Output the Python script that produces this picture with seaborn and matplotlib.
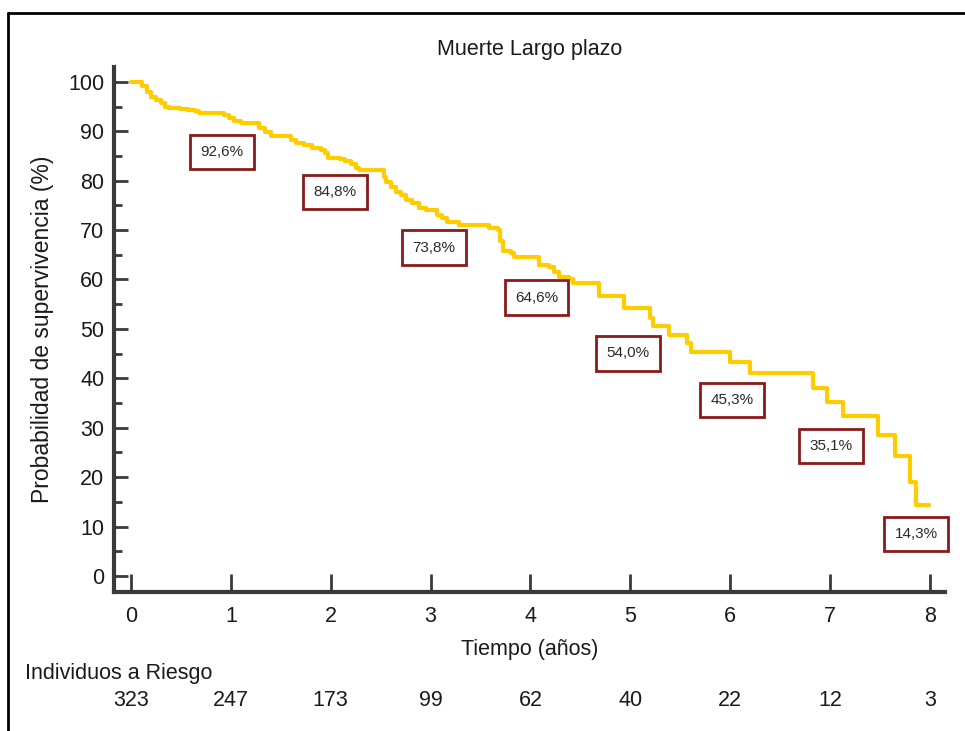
import matplotlib
matplotlib.use("Agg")
import matplotlib.pyplot as plt
from matplotlib.lines import Line2D
import seaborn as sns
import pandas as pd

# ---- data ----
times = [0, 0.11, 0.16, 0.20, 0.25, 0.30, 0.34, 0.38, 0.49, 0.57, 0.64, 0.68,
         0.93, 0.98, 1.03, 1.10, 1.28, 1.34, 1.40, 1.60, 1.65, 1.73, 1.81, 1.90,
         1.94, 1.97, 2.09, 2.14, 2.20, 2.25, 2.28, 2.53, 2.55, 2.60, 2.65, 2.70,
         2.75, 2.81, 2.88, 2.95, 3.06, 3.11, 3.16, 3.28, 3.58, 3.67, 3.69, 3.72,
         3.80, 3.83, 4.09, 4.19, 4.24, 4.29, 4.39, 4.43, 4.69, 4.94, 5.20, 5.23,
         5.39, 5.57, 5.61, 6.00, 6.20, 6.83, 6.97, 7.13, 7.48, 7.65, 7.80, 7.86,
         7.99]
survival = [100, 99.1, 98.0, 97.0, 96.4, 95.7, 95.0, 94.7, 94.5, 94.3, 94.0, 93.7,
            93.3, 92.6, 92.0, 91.6, 90.6, 89.9, 89.1, 88.3, 87.6, 87.2, 86.7, 86.2,
            85.6, 84.6, 84.3, 83.9, 83.4, 82.5, 82.2, 80.8, 79.8, 78.8, 77.8, 77.1,
            76.1, 75.4, 74.4, 74.0, 73.1, 72.4, 71.7, 71.1, 70.4, 70.0, 67.7, 65.7,
            65.3, 64.6, 62.9, 62.6, 61.6, 60.6, 60.2, 59.2, 56.7, 54.2, 52.2, 50.5,
            48.8, 47.1, 45.4, 43.3, 41.1, 38.0, 35.3, 32.3, 28.5, 24.2, 19.1, 14.4,
            14.4]

label_years = [1, 2, 3, 4, 5, 6, 7, 8]
label_texts = ["92,6%", "84,8%", "73,8%", "64,6%", "54,0%", "45,3%", "35,1%", "14,3%"]
# layout: label box centres
label_x = [0.91, 2.04, 3.03, 4.06, 4.98, 6.02, 7.01, 7.86]
label_y = [85.8, 77.7, 66.4, 56.3, 45.1, 35.6, 26.3, 8.5]

risk_years = [0, 1, 2, 3, 4, 5, 6, 7, 8]
at_risk = [323, 247, 173, 99, 62, 40, 22, 12, 3]

# ---- style ----
sns.set_style("white")
plt.rcParams['font.family'] = ['Liberation Sans', 'DejaVu Sans']
axis_col = "#3a3a3a"
txt_col = "#1a1a1a"
fs = 15.5

fig = plt.figure(figsize=(9.65, 7.31), dpi=100)
ax = fig.add_axes([114/965, 1 - 592/731, (945 - 114)/965, (592 - 67)/731])

df = pd.DataFrame({"t": times, "s": survival})
sns.lineplot(data=df, x="t", y="s", ax=ax, color="#FFCC00", linewidth=3.0,
             drawstyle="steps-post", estimator=None, sort=False)

ax.set_xlim(-0.17, 8.15)
ax.set_ylim(-3.24, 103.0)

ax.set_xticks(range(0, 9))
ax.set_yticks(range(0, 101, 10))
ax.set_yticks(range(5, 100, 10), minor=True)

for side in ["top", "right"]:
    ax.spines[side].set_visible(False)
for side in ["left", "bottom"]:
    ax.spines[side].set_color(axis_col)
    ax.spines[side].set_linewidth(3)

ax.tick_params(axis="y", which="both", left=True, right=False)
ax.tick_params(axis="x", which="both", bottom=True, top=False)
ax.tick_params(axis="y", which="major", direction="in", length=10, width=2,
               color=axis_col, labelsize=fs, pad=7, labelcolor=txt_col)
ax.tick_params(axis="y", which="minor", direction="in", length=6, width=2,
               color=axis_col)
ax.tick_params(axis="x", which="major", direction="in", length=13, width=2,
               color=axis_col, labelsize=fs, pad=10, labelcolor=txt_col)

ax.set_xlabel("Tiempo (años)", fontsize=fs, color=txt_col, labelpad=9)
ax.set_ylabel("Probabilidad de supervivencia (%)", fontsize=16.5, color=txt_col,
              labelpad=10)
ax.set_title("Muerte Largo plazo", fontsize=15.5, color=txt_col, pad=9)

# labelled boxes
for xx, yy, tt in zip(label_x, label_y, label_texts):
    ax.text(xx, yy, tt, ha="center", va="center", fontsize=11, color="#2a2a2a",
            bbox=dict(boxstyle="square,pad=0.68", facecolor="white",
                      edgecolor="#8B1A1A", linewidth=2))

# risk table
fig.text(25/965, 1 - 673/731, "Individuos a Riesgo", fontsize=fs, color=txt_col,
         ha="left", va="center")
trans = ax.get_xaxis_transform()
for yr, n in zip(risk_years, at_risk):
    ax.text(yr, (592 - 700) / (592 - 67), str(n), transform=trans, ha="center",
            va="center", fontsize=fs, color=txt_col, clip_on=False)

# outer frame (top and left edges)
fig.add_artist(Line2D([8/965, 8/965], [0, 1 - 13/731], transform=fig.transFigure,
                      color="black", linewidth=2))
fig.add_artist(Line2D([8/965, 1], [1 - 13/731, 1 - 13/731], transform=fig.transFigure,
                      color="black", linewidth=2))

fig.savefig("out.png", dpi=100)
